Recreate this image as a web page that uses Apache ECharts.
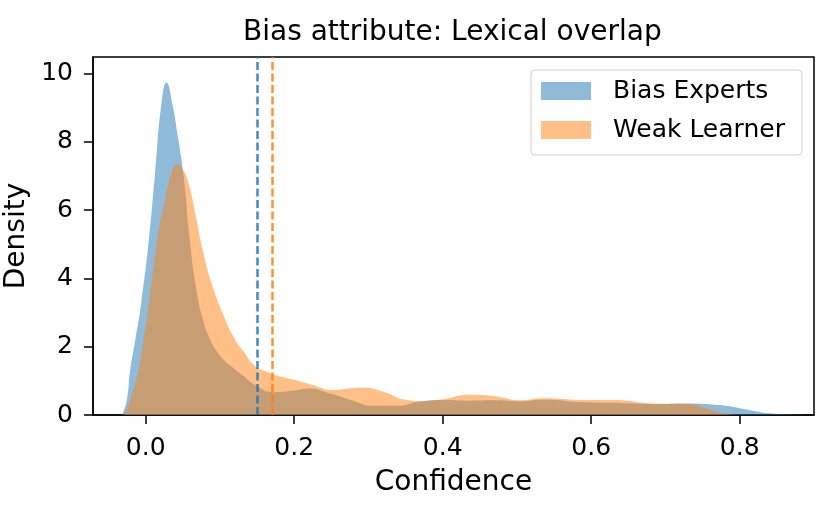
<!DOCTYPE html>
<html>
<head>
<meta charset="utf-8">
<script src="https://cdn.jsdelivr.net/npm/echarts@6/dist/echarts.min.js"></script>
<style>
    html, body { margin: 0; padding: 0; background: #fff; }
    #chart { width: 831px; height: 515px; }
</style>
</head>
<body>
<div id="chart"></div>
<script>
// density curves: [confidence, density]
var biasExperts = [
    [-0.071, 0], [-0.035, 0], [-0.031, 0.05], [-0.025, 0.5], [-0.021, 1.3], [-0.014, 2.2],
    [-0.006, 3.3], [0.0045, 5.2], [0.013, 7.2], [0.021, 9.1], [0.028, 9.74], [0.036, 9.1],
    [0.043, 8.2], [0.051, 7.0], [0.059, 5.2], [0.068, 3.7], [0.077, 2.8], [0.086, 2.25],
    [0.095, 1.89], [0.106, 1.6], [0.118, 1.38], [0.13, 1.17], [0.148, 0.87], [0.173, 0.67],
    [0.198, 0.71], [0.221, 0.78], [0.248, 0.63], [0.279, 0.42], [0.306, 0.27], [0.337, 0.27],
    [0.369, 0.39], [0.4, 0.44], [0.436, 0.42], [0.472, 0.43], [0.504, 0.4], [0.535, 0.45],
    [0.594, 0.37], [0.638, 0.35], [0.683, 0.32], [0.728, 0.34], [0.773, 0.29], [0.8, 0.2],
    [0.82, 0.12], [0.84, 0.05], [0.88, 0.01], [0.9, 0]
];
var weakLearner = [
    [-0.071, 0], [-0.03, 0], [-0.028, 0.05], [-0.02, 0.5], [-0.01, 1.3], [-0.003, 2.2],
    [0.0045, 3.3], [0.016, 5.2], [0.026, 6.3], [0.036, 7.17], [0.043, 7.35], [0.05, 7.2],
    [0.058, 6.76], [0.068, 5.78], [0.077, 4.81], [0.089, 3.84], [0.106, 2.86], [0.118, 2.3],
    [0.132, 1.85], [0.148, 1.42], [0.165, 1.25], [0.173, 1.17], [0.198, 1.04], [0.225, 0.88],
    [0.252, 0.73], [0.275, 0.78], [0.293, 0.8], [0.32, 0.68], [0.351, 0.44], [0.373, 0.41],
    [0.4, 0.46], [0.436, 0.59], [0.472, 0.54], [0.504, 0.43], [0.535, 0.49], [0.594, 0.44],
    [0.629, 0.44], [0.683, 0.34], [0.728, 0.32], [0.755, 0.2], [0.772, 0.08], [0.785, 0.02],
    [0.8, 0], [0.9, 0]
];
// dashed vertical lines (means)
var biasMean = 0.147;
var weakMean = 0.175;

var xTicks = [0, 0.2, 0.4, 0.6, 0.8];
var yTicks = [0, 2, 4, 6, 8, 10];
var legendNames = ['Bias Experts', 'Weak Learner'];

var font = 'DejaVu Sans';

var myChart = echarts.init(document.getElementById('chart'));

function densitySeries(name, data, color, mean, lineColor) {
    return {
        name: name,
        type: 'line',
        data: data,
        smooth: true,
        showSymbol: false,
        symbol: 'none',
        sampling: false,
        color: color,
        lineStyle: { width: 0, opacity: 0 },
        areaStyle: { color: color, opacity: 1 },
        markLine: {
            silent: true,
            symbol: 'none',
            label: { show: false },
            lineStyle: { color: lineColor, type: [8, 3.5], width: 2.5 },
            data: [{ xAxis: mean }]
        }
    };
}

var option = {
    animation: false,
    title: {
        text: 'Bias attribute: Lexical overlap',
        left: 238,
        top: 14,
        textStyle: { fontFamily: font, fontSize: 28, fontWeight: 'normal', color: '#000' }
    },
    legend: {
        orient: 'vertical',
        left: 531,
        top: 70,
        padding: [8, 17, 12, 10],
        itemWidth: 50,
        itemHeight: 18,
        itemGap: 13,
        icon: 'rect',
        borderColor: '#d0d0d0',
        borderWidth: 1,
        borderRadius: 4,
        data: legendNames,
        textStyle: { fontFamily: font, fontSize: 25, lineHeight: 26, color: '#000', padding: [0, 0, 0, 17] }
    },
    grid: {
        left: 93,
        right: 17,
        top: 57,
        bottom: 100,
        outerBoundsMode: 'none',
        containLabel: false,
        show: true,
        borderColor: '#000',
        borderWidth: 1.5
    },
    xAxis: {
        type: 'value',
        min: -0.071,
        max: 0.9,
        name: 'Confidence',
        nameLocation: 'middle',
        nameGap: 54,
        nameTextStyle: { fontFamily: font, fontSize: 28, color: '#000' },
        axisLine: { show: true, onZero: false, lineStyle: { color: '#000', width: 1.5 } },
        axisTick: { show: true, inside: false, length: 9, lineStyle: { color: '#000', width: 1.5 }, customValues: xTicks },
        axisLabel: {
            fontFamily: font, fontSize: 25, color: '#000', margin: 21,
            customValues: xTicks,
            formatter: function (v) { return v.toFixed(1); }
        },
        splitLine: { show: false }
    },
    yAxis: {
        type: 'value',
        min: 0,
        max: 10.49,
        name: 'Density',
        nameLocation: 'middle',
        nameGap: 45,
        nameTextStyle: { fontFamily: font, fontSize: 28, color: '#000' },
        axisLine: { show: true, onZero: false, lineStyle: { color: '#000', width: 1.5 } },
        axisTick: { show: true, inside: false, length: 9, lineStyle: { color: '#000', width: 1.5 }, customValues: yTicks },
        axisLabel: {
            fontFamily: font, fontSize: 25, color: '#000', margin: 20,
            customValues: yTicks,
            formatter: function (v) { return v.toFixed(0); }
        },
        splitLine: { show: false }
    },
    series: [
        densitySeries(legendNames[0], biasExperts, 'rgba(31,119,180,0.5)', biasMean, 'rgba(31,119,180,0.85)'),
        densitySeries(legendNames[1], weakLearner, 'rgba(255,127,14,0.5)', weakMean, 'rgba(255,127,14,0.85)')
    ]
};

myChart.setOption(option);
</script>
</body>
</html>
